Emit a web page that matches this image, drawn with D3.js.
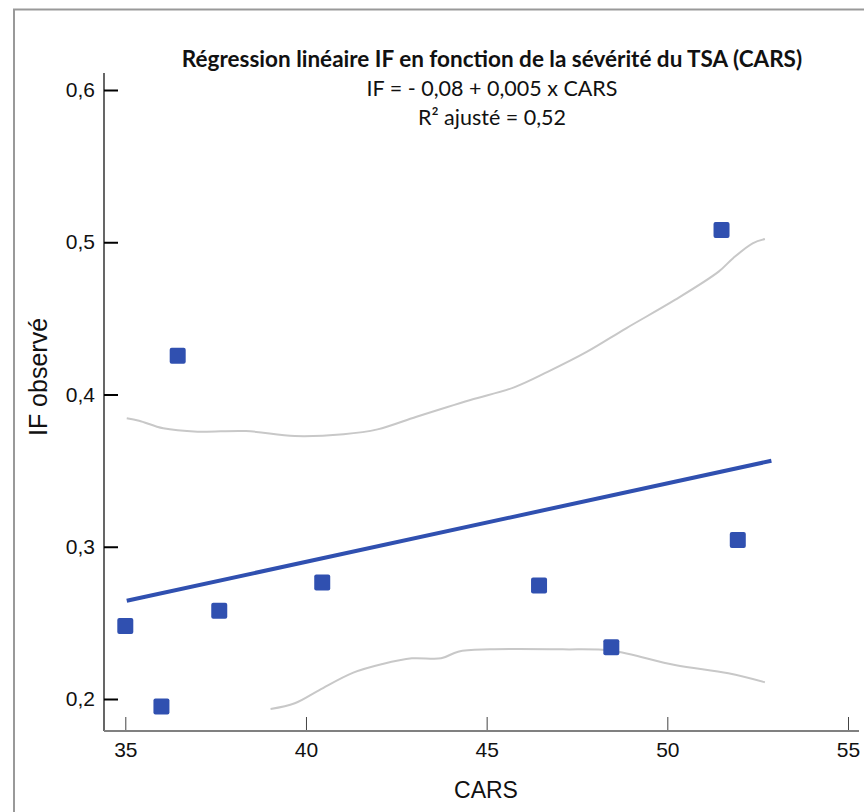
<!DOCTYPE html>
<html>
<head>
<meta charset="utf-8">
<script src="https://cdn.jsdelivr.net/npm/d3@7"></script>
<style>
  html, body { margin: 0; padding: 0; background: #fff; }
  svg { display: block; }
</style>
</head>
<body>
<div id="chart"></div>
<script>
// observed points (CARS score, IF)
const carsValues = [35.0, 36.0, 36.45, 37.6, 40.45, 46.45, 48.45, 51.5, 51.95];
const ifValues   = [0.248, 0.195, 0.4255, 0.258, 0.2765, 0.2745, 0.234, 0.508, 0.3045];

// fitted regression line (start / end)
const fitX = [35.04, 52.88];
const fitY = [0.2645, 0.3565];

// upper band
const upperX = [35.04, 35.38, 36.05, 37.0, 38.34, 39.69, 41.04, 41.98, 43.06, 44.55, 45.76, 46.7, 47.78, 48.86, 50.21, 51.42, 51.82, 52.36, 52.7];
const upperY = [0.3844, 0.3828, 0.3778, 0.3756, 0.376, 0.3727, 0.3739, 0.3771, 0.3854, 0.3964, 0.4047, 0.415, 0.4281, 0.4435, 0.4621, 0.4807, 0.4895, 0.4993, 0.5021];

// lower band
const lowerX = [39.02, 39.69, 40.37, 41.31, 42.12, 42.93, 43.74, 44.21, 45.09, 47.11, 48.46, 50.21, 51.69, 52.7];
const lowerY = [0.1934, 0.1972, 0.2059, 0.2173, 0.223, 0.2267, 0.2267, 0.2311, 0.2326, 0.2326, 0.2317, 0.2223, 0.2169, 0.211];

const xTicks = [35, 40, 45, 50, 55];
const yTicks = [0.2, 0.3, 0.4, 0.5, 0.6];

const titleLines = [
  "Régression linéaire IF en fonction de la sévérité du TSA (CARS)",
  "IF = - 0,08 + 0,005 x CARS",
  "R² ajusté = 0,52"
];

const W = 864, H = 812;
const blue = "#3050b0";

const svg = d3.select("#chart").append("svg")
  .attr("width", W)
  .attr("height", H);

// outer frame (only top and left edges visible)
svg.append("path")
  .attr("d", "M14," + H + " V9.5 H" + W)
  .attr("fill", "none")
  .attr("stroke", "#999")
  .attr("stroke-width", 2);

// scales
const x = d3.scaleLinear().domain([35, 55]).range([125.3, 848]);
const y = d3.scaleLinear().domain([0.2, 0.6]).range([699, 90]);

const axisX0 = 104, axisY0 = 731;
const fmt = d => d3.format(".1f")(d).replace(".", ",");

// Y axis
const gy = svg.append("g")
  .attr("transform", "translate(" + axisX0 + ",0)")
  .call(d3.axisLeft(y).tickValues(yTicks).tickSize(-14).tickPadding(9).tickFormat(fmt));
gy.select(".domain").remove();
gy.selectAll(".tick line").attr("stroke", "#000").attr("stroke-width", 2);
gy.selectAll(".tick text")
  .attr("font-family", "'Liberation Sans', Arial, sans-serif")
  .attr("font-size", 21)
  .attr("fill", "#111");
svg.append("line")
  .attr("x1", axisX0).attr("x2", axisX0)
  .attr("y1", 73).attr("y2", axisY0)
  .attr("stroke", "#000").attr("stroke-width", 1.2);

// X axis
const gx = svg.append("g")
  .attr("transform", "translate(0," + axisY0 + ")")
  .call(d3.axisBottom(x).tickValues(xTicks).tickSize(-14).tickPadding(11).tickFormat(d3.format("d")));
gx.select(".domain").remove();
gx.selectAll(".tick line").attr("stroke", "#444").attr("stroke-width", 1);
gx.selectAll(".tick text")
  .attr("font-family", "'Liberation Sans', Arial, sans-serif")
  .attr("font-size", 21)
  .attr("fill", "#111");
svg.append("line")
  .attr("x1", axisX0).attr("x2", 859)
  .attr("y1", axisY0).attr("y2", axisY0)
  .attr("stroke", "#808080").attr("stroke-width", 2);

// axis titles
svg.append("text")
  .attr("x", 486).attr("y", 798)
  .attr("text-anchor", "middle")
  .attr("font-family", "'Liberation Sans', Arial, sans-serif")
  .attr("font-size", 23)
  .attr("fill", "#111")
  .text("CARS");

svg.append("text")
  .attr("transform", "translate(47,377) rotate(-90)")
  .attr("text-anchor", "middle")
  .attr("font-family", "'Liberation Sans', Arial, sans-serif")
  .attr("font-size", 25)
  .attr("fill", "#111")
  .text("IF observé");

// confidence curves
const line = d3.line()
  .x(d => x(d[0]))
  .y(d => y(d[1]))
  .curve(d3.curveCatmullRom);

[[upperX, upperY], [lowerX, lowerY]].forEach(function (band) {
  svg.append("path")
    .datum(band[0].map((v, i) => [v, band[1][i]]))
    .attr("d", line)
    .attr("fill", "none")
    .attr("stroke", "#c8c8c8")
    .attr("stroke-width", 2);
});

// regression line
svg.append("path")
  .datum(fitX.map((v, i) => [v, fitY[i]]))
  .attr("d", d3.line().x(d => x(d[0])).y(d => y(d[1])))
  .attr("stroke", blue)
  .attr("stroke-width", 4)
  .attr("fill", "none");

// points
const s = 16;
svg.append("g")
  .selectAll("rect")
  .data(carsValues.map((v, i) => [v, ifValues[i]]))
  .enter().append("rect")
  .attr("x", d => x(d[0]) - s / 2)
  .attr("y", d => y(d[1]) - s / 2)
  .attr("width", s)
  .attr("height", s)
  .attr("rx", 2)
  .attr("fill", blue);

// title block
const title = svg.append("g")
  .attr("font-family", "Lato, 'Open Sans', sans-serif")
  .attr("text-anchor", "middle")
  .attr("fill", "#111");
title.append("text")
  .attr("x", 492).attr("y", 67)
  .attr("font-size", 22.5)
  .attr("font-weight", "bold")
  .text(titleLines[0]);
title.append("text")
  .attr("x", 492).attr("y", 96)
  .attr("font-size", 21.5)
  .text(titleLines[1]);
title.append("text")
  .attr("x", 492).attr("y", 125)
  .attr("font-size", 21.5)
  .text(titleLines[2]);
</script>
</body>
</html>
